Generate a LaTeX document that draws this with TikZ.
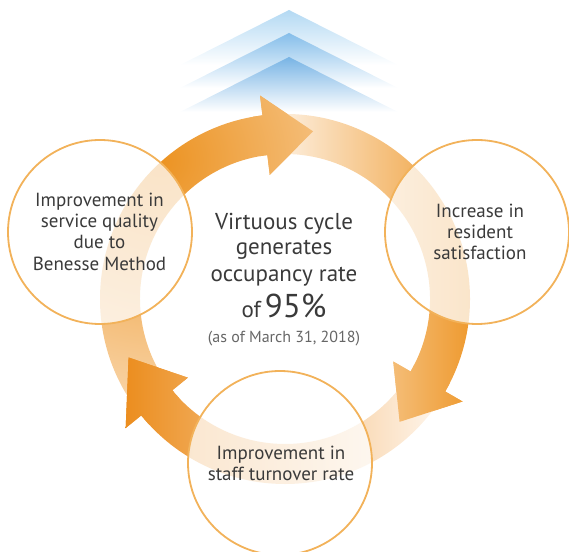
\documentclass[tikz,border=0pt]{standalone}
\usepackage{fontspec}
\setmainfont{PT Sans}
\definecolor{txt}{HTML}{3A3A3A}
\definecolor{subtxt}{HTML}{666666}
\definecolor{bubline}{HTML}{F2B25A}
\definecolor{chevA}{HTML}{B3D9F3}
\definecolor{chevB}{HTML}{85BEEA}
\definecolor{chevC}{HTML}{78B4E5}
\definecolor{odark}{HTML}{EC9322}
\definecolor{opale}{HTML}{FDEBD6}
\definecolor{rpale}{HTML}{FFFAF5}
\definecolor{rmid}{HTML}{F8D2A2}
\definecolor{rdark}{HTML}{EE982B}
\definecolor{bdark}{HTML}{EB8B1A}
\definecolor{bmid}{HTML}{F4BC78}
\definecolor{bpale}{HTML}{FFF9F3}
\tikzset{
  bub/.style={circle, minimum size=184pt, inner sep=0pt, draw=bubline, line width=1.8pt,
    fill=white, fill opacity=0.75, draw opacity=1},
  ctext/.style={text=txt, align=center, inner sep=0pt, font=\fontsize{19}{21.3}\selectfont},
  mtext/.style={text=txt, anchor=base, inner sep=0pt, font=\fontsize{23}{27}\selectfont},
}
\def\pTop{(220:185) arc[start angle=220, end angle=97, radius=185] -- (97:205) -- (80.5:170) -- (97:125) -- (97:145) arc[start angle=97, end angle=220, radius=145] -- cycle}
\def\pRight{(97:185) arc[start angle=97, end angle=-30, radius=185] -- (-30:205) -- (-47:168) -- (-30:125) -- (-30:145) arc[start angle=-30, end angle=97, radius=145] -- cycle}
\def\pBottom{(-30:185) arc[start angle=-30, end angle=-141, radius=185] -- (-141:205) -- (-159.5:167) -- (-141:125) -- (-141:145) arc[start angle=-141, end angle=-30, radius=145] -- cycle}
\def\shTop{\shade[inner color=odark, outer color=opale] (-455,-191) rectangle (205,469);}
\def\shRight{\shade[left color=rpale, middle color=rmid, right color=rdark] (-30,-142) rectangle (190,208);}
\def\shBottom{\shade[left color=bdark, middle color=bmid, right color=bpale] (-167,-192) rectangle (165,-52);}
\begin{document}
\begin{tikzpicture}[x=1pt,y=1pt]
\useasboundingbox (0,0) rectangle (569,551);
% chevrons
\shade[top color=chevA, bottom color=white] (180,486) -- (289,541) -- (398,486) -- cycle;
\shade[top color=chevB, bottom color=white] (180,463) -- (289,518) -- (398,463) -- cycle;
\shade[top color=chevC, bottom color=white] (180,439) -- (289,494) -- (398,439) -- cycle;
% cycle arrows
\begin{scope}[shift={(285,252)}]
  \coordinate (ringc) at (0,0);
  \begin{scope}\clip \pTop; \shTop \end{scope}
  \begin{scope}\clip \pRight; \shRight \end{scope}
  \begin{scope}\clip \pBottom; \shBottom \end{scope}
  % heads on top of the following tails
  \begin{scope}\clip (0,0) -- (100:250) -- (76:250) -- cycle; \clip \pTop; \shTop \end{scope}
  \begin{scope}\clip (0,0) -- (-27:250) -- (-50:250) -- cycle; \clip \pRight; \shRight \end{scope}
  \begin{scope}\clip (0,0) -- (223:250) -- (197:250) -- cycle; \clip \pBottom; \shBottom \end{scope}
\end{scope}
% bubbles
\node[bub] (service) at (100,319) {};
\node[bub] (resident) at (477,319) {};
\node[bub] (staff) at (280,88) {};
\node[ctext] (serviceT) at (99.5,319.5) {Improvement in\\service quality\\due to\\Benesse Method};
\node[ctext] (residentT) at (480,319) {Increase in\\resident\\satisfaction};
\node[ctext] (staffT) at (281,87.8) {Improvement in\\staff turnover rate};
% centre text
\node[mtext] (c1) at (284,321) {Virtuous cycle};
\node[mtext] (c2) at (284,296) {generates};
\node[mtext] (c3) at (284,269) {occupancy rate};
\node[mtext] (c4) at (284,233) {of\,{\fontsize{33}{33}\selectfont 95\%}};
\node[mtext, text=subtxt, font=\fontsize{16}{18}\selectfont] (c5) at (284,208) {(as of March 31, 2018)};
\end{tikzpicture}
\end{document}
